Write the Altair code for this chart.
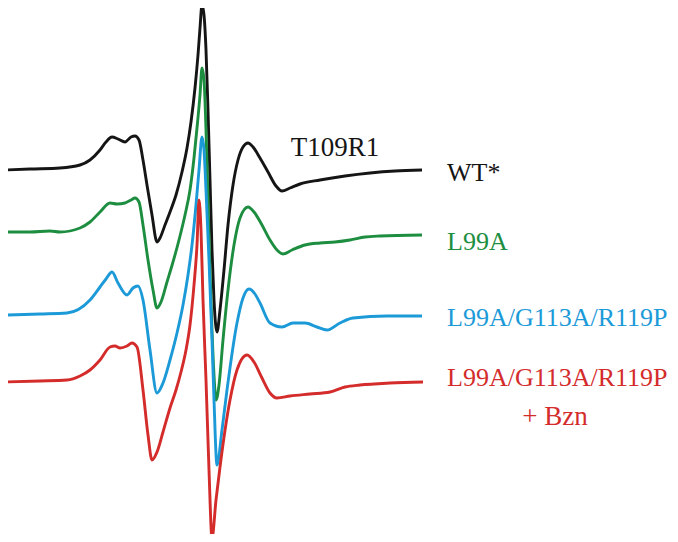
import altair as alt
import pandas as pd

# EPR spectra (T109R1): field position and signal amplitude
names = ["WT*", "L99A", "L99A/G113A/R119P", "L99A/G113A/R119P + Bzn"]
colors = ["#151515", "#1d8e40", "#1c9ad8", "#d42b2b"]
offsets = [-170, -235, -315, -382]

wt_field = [6, 30, 60, 80, 90, 100, 106, 112, 118, 125, 131, 135, 139, 143, 147, 152, 157, 160, 165, 170,
            176, 182, 187, 191, 195, 198, 200, 202, 204, 206, 208, 210, 212, 214, 217, 220, 224, 228, 233, 238,
            243, 248, 253, 260, 268, 276, 282, 290, 300, 320, 345, 370, 395, 422]
wt_y = [170, 169, 168, 165, 160, 150, 142, 137, 139, 142, 137, 136, 140, 160, 185, 215, 242, 238, 225, 212,
        195, 172, 148, 122, 88, 55, 28, 5, 15, 50, 110, 180, 250, 300, 332, 310, 270, 225, 185, 160,
        147, 143, 147, 158, 172, 186, 191, 188, 184, 180, 176, 173, 171, 170]

l99a_field = [6, 30, 50, 60, 80, 90, 100, 110, 117, 125, 131, 135, 139, 143, 148, 153, 157, 161, 167, 173,
              179, 185, 190, 194, 197, 200, 202, 204, 206, 208, 210, 212, 214, 216, 219, 223, 228, 234, 240,
              248, 254, 262, 270, 277, 283, 292, 305, 320, 335, 350, 365, 380, 422]
l99a_y = [232, 232, 231, 232, 228, 222, 212, 203, 204, 203, 200, 198, 202, 225, 260, 290, 308, 302, 282, 262,
          240, 215, 190, 158, 128, 95, 68, 80, 130, 200, 270, 330, 375, 400, 385, 340, 290, 245, 218,
          207, 212, 225, 240, 250, 254, 250, 245, 243, 242, 240, 237, 236, 235]

tri_field = [7, 40, 67, 90, 100, 106, 112, 118, 127, 133, 138, 143, 150, 157, 163, 170, 177, 183, 188, 192,
             196, 199, 202, 204, 206, 209, 212, 214, 217, 222, 227, 237, 243, 249, 255, 260, 270, 282, 293,
             305, 317, 327, 340, 353, 387, 422]
tri_y = [315, 314, 313, 300, 287, 279, 272, 283, 295, 288, 286, 300, 350, 393, 383, 360, 333, 305, 275, 245,
         205, 170, 137, 150, 190, 260, 340, 400, 465, 430, 390, 323, 298, 289, 294, 303, 323, 327, 323,
         323, 327, 330, 323, 318, 316, 316]

bzn_field = [3, 40, 67, 80, 90, 100, 110, 115, 120, 127, 132, 137, 143, 148, 152, 157, 163, 170, 176, 181,
             186, 190, 194, 197, 199, 201, 203, 206, 209, 212, 216, 220, 230, 237, 247, 254, 262, 270, 277,
             290, 310, 330, 345, 360, 390, 423]
bzn_y = [382, 381, 380, 376, 370, 360, 347, 346, 348, 346, 343, 347, 390, 435, 460, 452, 432, 408, 390, 372,
         350, 325, 285, 245, 200, 230, 300, 380, 470, 538, 500, 467, 400, 370, 355, 362, 378, 393, 398,
         396, 394, 392, 387, 385, 383, 382]

fields = [wt_field, l99a_field, tri_field, bzn_field]
ys = [wt_y, l99a_y, tri_y, bzn_y]

rows = []
for i, (name, fx, fy, off) in enumerate(zip(names, fields, ys, offsets)):
    base = -off
    for f, v in zip(fx, fy):
        amp = base - v
        rows.append({"series": name, "order": i, "field": f, "signal": off + amp})
df = pd.DataFrame(rows)

label_text = ["WT*", "L99A", "L99A/G113A/R119P", "L99A/G113A/R119P"]
label_series = names
label_field = [447, 447, 447, 447]
label_signal = [-173, -242, -318, -378]
labels = pd.DataFrame({"text": label_text, "series": label_series, "field": label_field, "signal": label_signal})

center_labels = pd.DataFrame({
    "text": ["T109R1", "+ Bzn"],
    "series": ["WT*", "L99A/G113A/R119P + Bzn"],
    "field": [335, 555],
    "signal": [-148, -417],
})

W, H = 662, 526
xs = alt.Scale(domain=[8, 8 + W], nice=False, zero=False)
ysc = alt.Scale(domain=[-(8 + H), -8], nice=False, zero=False)
cs = alt.Scale(domain=names, range=colors)

x = alt.X("field:Q", scale=xs, axis=None)
y = alt.Y("signal:Q", scale=ysc, axis=None)

lines_layers = [
    alt.Chart(df[df.series == n]).mark_line(strokeWidth=2.9, interpolate="monotone", color=c).encode(
        x=x, y=y, order="field:Q")
    for n, c in zip(names, colors)
]

texts = alt.Chart(labels).mark_text(align="left", baseline="middle", font="Liberation Serif", fontSize=26).encode(
    x=x, y=y, text="text:N", color=alt.Color("series:N", scale=cs, legend=None))

ctexts = alt.Chart(center_labels).mark_text(align="center", baseline="middle", font="Liberation Serif", fontSize=27).encode(
    x=x, y=y, text="text:N", color=alt.Color("series:N", scale=cs, legend=None))

chart = alt.layer(*lines_layers, texts, ctexts).properties(
    width=W, height=H, padding=0, autosize="none"
).configure_view(stroke=None)

chart.save("out.html", embed_options={"renderer": "svg", "actions": False})
